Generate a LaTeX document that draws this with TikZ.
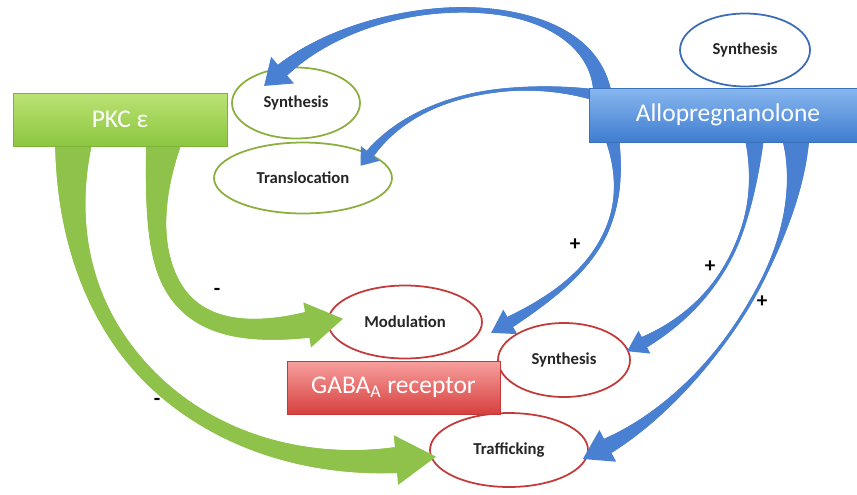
\documentclass[tikz,border=0pt]{standalone}
\usepackage{fontspec}
\setmainfont{Carlito}
\usepackage{tikz}
\usetikzlibrary{calc,shapes.geometric,decorations.markings,shadows}
\definecolor{pkcgreen}{HTML}{8CC63F}
\definecolor{pkclight}{HTML}{BAE374}
\definecolor{allodark}{HTML}{3F7DD0}
\definecolor{allolight}{HTML}{88B7EF}
\definecolor{gabadark}{HTML}{D6403F}
\definecolor{gabalight}{HTML}{F7A09E}
\definecolor{ringgreen}{HTML}{8BAF3E}
\definecolor{ringblue}{HTML}{3A6DB5}
\definecolor{ringred}{HTML}{C23B3A}
\definecolor{flowblue}{HTML}{4A80D2}
\definecolor{flowgreen}{HTML}{8EC24A}
\pgfdeclarelayer{front}
\pgfsetlayers{main,front}
\tikzstyle{box}=[rectangle, text=white, inner sep=0pt, font=\fontsize{14.5}{17}\selectfont, drop shadow={opacity=0.25,shadow xshift=0.6pt,shadow yshift=-0.8pt}]
\tikzstyle{ring}=[ellipse, draw, line width=1pt, fill=white, inner sep=0pt, text=black!85, font=\bfseries\fontsize{9.5}{11}\selectfont]
\tikzstyle{sign}=[font=\bfseries\fontsize{12}{14}\selectfont]
\tikzset{
  flow/.style args={#1/#2/#3/#4/#5/#6}{% colour/start/middle/end/head width/head length (pt)
    decoration={markings,
      mark=between positions 0 and 1 step 0.5pt with {
        \pgfmathsetmacro\flowd{\pgfkeysvalueof{/pgf/decoration/mark info/distance from start}}
        \pgfmathsetmacro\flowl{\pgfdecoratedpathlength-#6}
        \pgfmathsetmacro\flowt{min(\flowd/\flowl,1)}
        \pgfmathsetmacro\floww{(#3+(#2-#3)*max(1-\flowt/0.4,0)^2+(#4-#3)*max((\flowt-0.55)/0.45,0)^2)/2}
        \pgfmathsetmacro\flowtip{\pgfdecoratedpathlength-\flowd}
        \ifdim\flowd pt<\flowl pt
          \fill[#1] (-0.6pt,-\floww pt) rectangle (0.6pt,\floww pt);
        \else\ifdim\flowtip pt>\dimexpr#6pt-0.5pt\relax
          \fill[#1] (-0.3pt,-#5pt/2) -- (\flowtip pt,0pt) -- (-0.3pt,#5pt/2) -- cycle;
        \fi\fi}},
    postaction=decorate}
}

\begin{document}
\begin{tikzpicture}[x=0.02cm,y=-0.02cm]
\useasboundingbox (0,0) rectangle (857,494);
% boxes
\begin{pgfonlayer}{front}
\node[box, top color=pkclight, bottom color=pkcgreen, draw=pkcgreen!90!black, minimum width=4.28cm, minimum height=1.06cm] (pkc) at (120,119.5) {PKC ε};
\node[box, top color=allolight, bottom color=allodark, draw=allodark!90!black, minimum width=5.56cm, minimum height=1.08cm] (allo) at (728,115) {Allopregnanolone};
\node[box, top color=gabalight, bottom color=gabadark, draw=gabadark!90!black, minimum width=4.26cm, minimum height=1.06cm] (gaba) at (393.5,387.5) {GABA\textsubscript{A} receptor};
\end{pgfonlayer}
% ellipses
\node[ring, draw=ringgreen, minimum width=2.56cm, minimum height=1.42cm] (synA) at (296,103) {Synthesis};
\node[ring, draw=ringgreen, minimum width=3.56cm, minimum height=1.42cm] (transl) at (303,178) {Translocation};
\node[ring, draw=ringblue, minimum width=2.6cm, minimum height=1.46cm] (synB) at (745,50) {Synthesis};
\node[ring, draw=ringred, minimum width=3.08cm, minimum height=1.46cm] (modul) at (405,322) {Modulation};
\node[ring, draw=ringred, minimum width=2.64cm, minimum height=1.48cm] (synC) at (564,360) {Synthesis};
\node[ring, draw=ringred, minimum width=3.16cm, minimum height=1.48cm] (traff) at (509,450) {Trafficking};
% blue arrows
\path[flow=flowblue/11/3/8/20/13.6] ($(allo)+(-125,-15)$) .. controls (598,-20) and (360,-15) .. ($(synA)+(-28,-19)$);
\path[flow=flowblue/6.8/1.8/5/13.6/9] ($(allo)+(-128,-19)$) .. controls (520,78) and (410,90) .. ($(transl)+(59,-13)$);
\path[flow=flowblue/9/2.2/6.5/16/12.5] ($(allo)+(-118,15)$) .. controls (640,240) and (570,290) .. ($(modul)+(87,10)$);
\path[flow=flowblue/12.5/1.7/6.5/14.7/11.3] ($(allo)+(26,15)$) .. controls (760,230) and (720,310) .. ($(synC)+(64,-10)$);
\path[flow=flowblue/17/1.7/9/20.4/16] ($(allo)+(67,15)$) .. controls (810,250) and (700,410) .. ($(traff)+(77,6)$);
% green arrows
\path[flow=flowgreen/22.7/8/14.7/28.4/22.7] ($(pkc)+(-45,10)$) .. controls (45,360) and (230,490) .. ($(traff)+(-81,6)$);
\path[flow=flowgreen/21.5/9.5/14.7/26/20.4] ($(pkc)+(45,15)$) .. controls (130,320) and (210,350) .. ($(modul)+(-65,-4)$);
% signs
\node[sign] (plusA) at (575,245) {+};
\node[sign] (plusB) at (710,267) {+};
\node[sign] (plusC) at (762,302) {+};
\node[sign] (minusA) at (217,292) {-};
\node[sign] (minusB) at (157,402) {-};
\end{tikzpicture}
\end{document}
